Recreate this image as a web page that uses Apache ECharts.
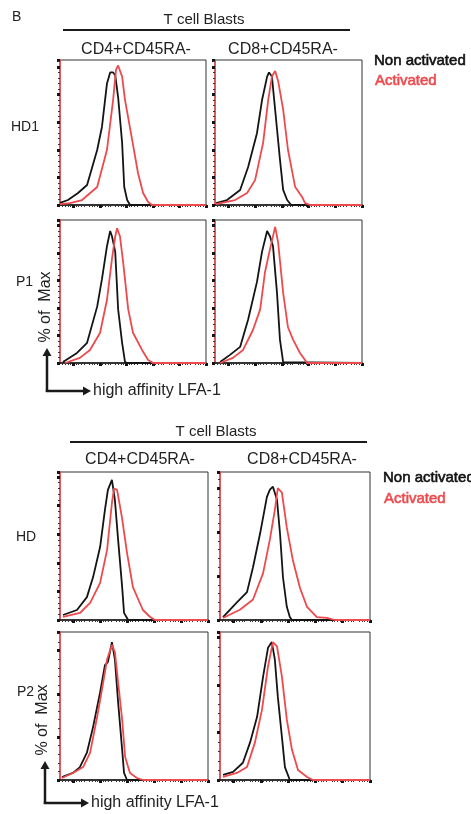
<!DOCTYPE html>
<html>
<head>
<meta charset="utf-8">
<script src="https://cdn.jsdelivr.net/npm/echarts@6/dist/echarts.min.js"></script>
<style>
  html, body { margin: 0; padding: 0; background: #fff; }
  #main { width: 471px; height: 814px; }
</style>
</head>
<body>
<div id="main"></div>
<script>
// histogram outlines, [x (log units), % of max]
var hd1Cd4Non = [[0,1.5],[0.3,3.6],[0.68,8.7],[1.02,14.5],[1.4,39.8],[1.58,56.5],[1.77,88],[1.89,96],[2.0,96],[2.08,94],[2.19,78],[2.34,45],[2.42,13],[2.53,3.6],[2.64,0],[5.5,0]];
var hd1Cd4Act = [[0,0.7],[0.38,1.4],[0.83,3.6],[1.4,13],[1.77,40],[2.0,76],[2.11,98],[2.19,101],[2.34,93],[2.45,76],[2.72,47],[2.94,23],[3.13,8.7],[3.32,2.2],[3.47,0],[5.5,0]];
var hd1Cd8Non = [[0.04,1.4],[0.45,3.6],[0.94,10.9],[1.24,27.5],[1.57,52],[1.76,76],[1.95,93],[2.02,96],[2.13,93],[2.25,69],[2.43,33],[2.55,10.9],[2.7,3.6],[2.85,0],[5.5,0]];
var hd1Cd8Act = [[0.04,0.7],[0.75,3.6],[1.2,8.7],[1.5,18],[1.8,45],[1.99,76],[2.13,93],[2.25,97],[2.36,90],[2.55,69],[2.73,40],[3.0,13],[3.26,5.8],[3.37,1.4],[3.56,0],[5.5,0]];
var p1Cd4Non = [[0.11,0.7],[0.64,7.3],[1.02,14.7],[1.4,41],[1.58,61],[1.77,85],[1.89,96],[1.96,92],[2.08,81],[2.19,39],[2.34,14.7],[2.45,0.7],[2.53,0],[5.5,0]];
var p1Cd4Act = [[0.19,0],[0.75,3.7],[1.13,9.5],[1.51,22],[1.77,46],[1.96,76],[2.08,92],[2.15,98],[2.26,92],[2.38,73],[2.57,39],[2.75,22],[3.09,9.5],[3.32,2.2],[3.51,0],[5.5,0]];
var p1Cd8Non = [[0.19,0.7],[0.56,5.9],[0.94,11.7],[1.24,31.6],[1.57,59],[1.76,81],[1.95,96],[2.06,92],[2.17,85],[2.32,51],[2.43,17],[2.55,0.7],[2.62,0],[5.5,0]];
var p1Cd8Act = [[0.19,0],[0.67,3.7],[1.05,9.5],[1.42,24],[1.69,39],[1.87,66],[2.06,83],[2.25,99],[2.36,88],[2.55,51],[2.73,26],[2.92,17],[3.18,7.3],[3.45,0],[5.5,0]];
var hdCd4Non = [[0.11,3.5],[0.63,7],[1.0,16],[1.23,30],[1.49,51],[1.67,77],[1.78,91],[1.93,98],[2.04,84],[2.16,56],[2.31,23],[2.38,5],[2.49,1.4],[2.53,0],[5.5,0]];
var hdCd4Act = [[0.11,2.1],[0.74,4.9],[1.12,12],[1.49,26],[1.75,49],[1.93,82],[2.01,92],[2.12,91],[2.16,90],[2.3,72],[2.49,47],[2.71,23],[3.08,7],[3.35,2.1],[3.53,0],[5.5,0]];
var hdCd8Non = [[0.11,2],[0.62,12],[0.99,19],[1.21,36],[1.47,59],[1.72,84],[1.83,89],[1.94,91],[2.09,82],[2.2,59],[2.31,29],[2.45,9],[2.56,2],[2.64,0],[5.5,0]];
var hdCd8Act = [[0.11,1.4],[0.73,7],[1.21,14],[1.58,32],[1.83,55],[2.01,75],[2.12,90],[2.27,87],[2.45,63],[2.67,41],[2.93,22],[3.19,9],[3.55,2],[3.92,1.4],[4.21,0],[5.5,0]];
var p2Cd4Non = [[0.07,2.1],[0.48,4.9],[0.74,9],[1.0,19],[1.23,37],[1.49,61],[1.67,80],[1.78,82],[1.93,96],[2.04,84],[2.16,54],[2.31,21],[2.38,4.9],[2.49,0],[5.5,0]];
var p2Cd4Act = [[0.07,1.4],[0.48,4.9],[0.86,9],[1.12,19],[1.38,44],[1.56,63],[1.75,84],[1.93,94],[2.04,89],[2.16,68],[2.31,42],[2.42,16],[2.6,4.9],[2.86,1.4],[3.09,0],[5.5,0]];
var p2Cd8Non = [[0.11,3.5],[0.48,5.6],[0.84,12],[1.1,26],[1.36,44],[1.58,72],[1.76,92],[1.9,96],[2.01,84],[2.12,58],[2.27,30],[2.38,9],[2.56,0],[5.5,0]];
var p2Cd8Act = [[0.11,2.1],[0.62,4.9],[0.99,9],[1.28,26],[1.54,49],[1.76,79],[1.94,96],[2.09,93],[2.27,72],[2.45,42],[2.64,21],[2.86,7],[3.19,2.1],[3.41,0],[5.5,0]];

var columns = ['CD4+CD45RA-', 'CD8+CD45RA-'];
var rowsTop = ['HD1', 'P1'];
var rowsBottom = ['HD', 'P2'];
var xTicks = [0.5, 1.5, 2.5, 3.5, 4.5, 5.5];
var legendNames = ['Non activated', 'Activated'];

var BLACK = '#141414', RED = '#ee4a4d';
var FONT = 'Liberation Sans';

// panel boxes: left, top, width, height, y max, y tick step
var panels = [
  {box: [60, 60, 146, 145], ymax: 105, step: 20, non: hd1Cd4Non, act: hd1Cd4Act},
  {box: [215, 60, 147, 145], ymax: 105, step: 20, non: hd1Cd8Non, act: hd1Cd8Act},
  {box: [60, 220, 146, 143], ymax: 104, step: 20, non: p1Cd4Non, act: p1Cd4Act},
  {box: [215, 220, 147, 143], ymax: 104, step: 20, non: p1Cd8Non, act: p1Cd8Act},
  {box: [60, 472, 148, 148], ymax: 103.5, step: 20, non: hdCd4Non, act: hdCd4Act},
  {box: [220, 472, 150, 148], ymax: 101, step: 30, non: hdCd8Non, act: hdCd8Act},
  {box: [60, 632, 148, 148], ymax: 103, step: 30, non: p2Cd4Non, act: p2Cd4Act},
  {box: [220, 632, 150, 148], ymax: 103, step: 33, non: p2Cd8Non, act: p2Cd8Act}
];

var grids = [], xAxes = [], yAxes = [], series = [];
panels.forEach(function(p, i){
  grids.push({
    left: p.box[0], top: p.box[1], width: p.box[2], height: p.box[3],
    show: true, borderColor: '#333', borderWidth: 1, backgroundColor: '#fff'
  });
  xAxes.push({
    gridIndex: i, type: 'value', min: 0, max: 5.5, interval: 0.5,
    axisLine: {lineStyle: {color: BLACK, width: 1.5}},
    axisTick: {show: true, customValues: xTicks, length: 3, lineStyle: {color: BLACK, width: 3}},
    minorTick: {show: true, splitNumber: 5, length: 2, lineStyle: {color: '#333', width: 1}},
    axisLabel: {show: false}, splitLine: {show: false}
  });
  yAxes.push({
    gridIndex: i, type: 'value', min: 0, max: p.ymax, interval: p.step,
    axisLine: {lineStyle: {color: RED, width: 1.5}},
    axisTick: {show: true, length: 3, lineStyle: {color: BLACK, width: 3}},
    minorTick: {show: true, splitNumber: 5, length: 2, lineStyle: {color: '#333', width: 1}},
    axisLabel: {show: false}, splitLine: {show: false}
  });
  series.push({
    name: legendNames[0], type: 'line', xAxisIndex: i, yAxisIndex: i, data: p.non,
    showSymbol: false, lineStyle: {color: BLACK, width: 1.8}, silent: true
  });
  series.push({
    name: legendNames[1], type: 'line', xAxisIndex: i, yAxisIndex: i, data: p.act,
    showSymbol: false, lineStyle: {color: RED, width: 1.8}, silent: true
  });
});

function txt(x, y, s, opt){
  opt = opt || {};
  var st = {
    text: s, fill: opt.color || '#222', font: (opt.weight || 'normal') + ' ' + (opt.size || 13) + 'px "' + FONT + '"',
    textAlign: opt.align || 'left', textVerticalAlign: 'middle'
  };
  if (opt.heavy) { st.stroke = opt.color; st.lineWidth = 0.6; }
  return {type: 'text', x: x, y: y, rotation: opt.rotation || 0, z: 10, style: st};
}
function line(x1, y1, x2, y2, w){
  return {type: 'line', z: 10, shape: {x1: x1, y1: y1, x2: x2, y2: y2}, style: {stroke: '#1a1a1a', lineWidth: w || 2}};
}
function arrowAxes(x0, y0, yTop, xRight, labelX){
  return [
    line(x0, y0 + 1, x0, yTop + 6, 2.5),
    {type: 'polygon', z: 10, shape: {points: [[x0 - 4.5, yTop + 8], [x0 + 4.5, yTop + 8], [x0, yTop]]}, style: {fill: '#1a1a1a'}},
    line(x0 - 1.2, y0, xRight - 6, y0, 2.5),
    {type: 'polygon', z: 10, shape: {points: [[xRight - 8, y0 - 4.5], [xRight - 8, y0 + 4.5], [xRight, y0]]}, style: {fill: '#1a1a1a'}},
    txt(labelX, y0, 'high affinity LFA-1', {size: 16})
  ];
}

var graphics = [
  txt(12, 17, 'B', {size: 14}),
  txt(204, 20, 'T cell Blasts', {align: 'center', size: 15}),
  line(63, 30, 350, 30, 2),
  txt(136, 50, columns[0], {align: 'center', size: 16}),
  txt(283, 50, columns[1], {align: 'center', size: 16}),
  txt(374, 61, legendNames[0], {size: 15, color: '#111', heavy: true}),
  txt(375, 81, legendNames[1], {size: 15, color: RED, heavy: true}),
  txt(11, 127, rowsTop[0], {size: 14}),
  txt(16, 282, rowsTop[1], {size: 14}),
  txt(46, 307, '% of  Max', {align: 'center', size: 16, rotation: Math.PI / 2}),

  txt(216, 432, 'T cell Blasts', {align: 'center', size: 15}),
  line(70, 442, 367, 442, 2),
  txt(140, 460, columns[0], {align: 'center', size: 16}),
  txt(302, 460, columns[1], {align: 'center', size: 16}),
  txt(383, 478, legendNames[0], {size: 15, color: '#111', heavy: true}),
  txt(384, 499, legendNames[1], {size: 15, color: RED, heavy: true}),
  txt(16, 537, rowsBottom[0], {size: 14}),
  txt(17, 692, rowsBottom[1], {size: 14}),
  txt(43, 720, '% of  Max', {align: 'center', size: 16, rotation: Math.PI / 2})
].concat(arrowAxes(47, 391, 348, 91, 93)).concat(arrowAxes(45, 803, 761, 89, 91));

var myChart = echarts.init(document.getElementById('main'), null, {renderer: 'canvas'});
myChart.setOption({
  animation: false,
  backgroundColor: '#fff',
  grid: grids,
  xAxis: xAxes,
  yAxis: yAxes,
  series: series,
  graphic: graphics
});
</script>
</body>
</html>
